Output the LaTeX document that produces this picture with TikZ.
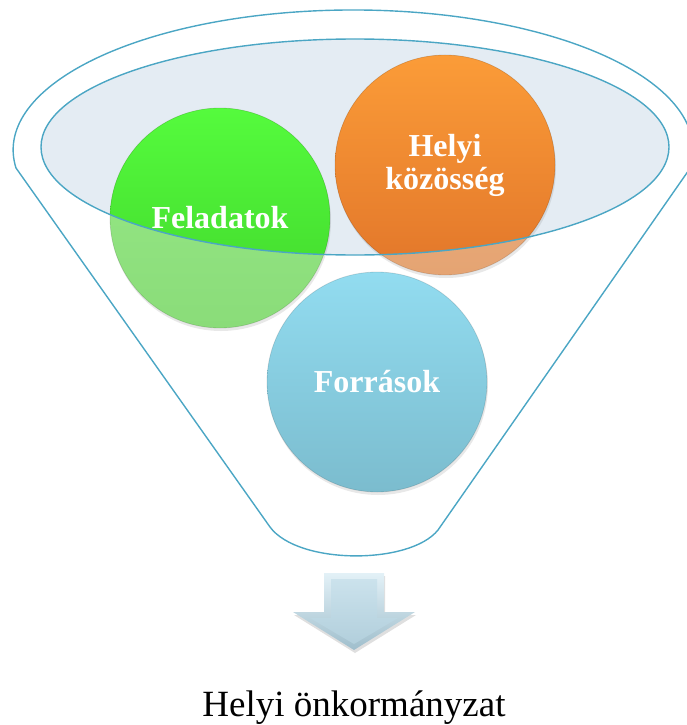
\documentclass[tikz,border=0pt]{standalone}
\usepackage{fontspec}
\setmainfont{Liberation Serif}
\usetikzlibrary{shadows}
\definecolor{funnelc}{HTML}{4BA6C4}
\definecolor{ellfill}{HTML}{E4ECF3}
\definecolor{gTop}{HTML}{55FB3D}
\definecolor{gBot}{HTML}{40D52B}
\definecolor{gLtTop}{HTML}{98EA88}
\definecolor{gLtBot}{HTML}{8ADC79}
\definecolor{oTop}{HTML}{FB9C38}
\definecolor{oBot}{HTML}{E2762A}
\definecolor{oLtTop}{HTML}{EDB37F}
\definecolor{oLtBot}{HTML}{E5A473}
\definecolor{bTop}{HTML}{92DCF0}
\definecolor{bBot}{HTML}{7BBCCE}
\definecolor{arTop}{HTML}{E3F1F7}
\definecolor{arBot}{HTML}{9FBECC}
\definecolor{arInTop}{HTML}{CBE2EC}
\definecolor{arInBot}{HTML}{B2CFDC}
\begin{document}
\begin{tikzpicture}[x=1pt,y=-1pt,
  fline/.style={draw=funnelc, line width=1.4pt},
  ball/.style={circle, minimum size=220pt, inner sep=0pt, text=white,
    font=\fontsize{32}{34}\selectfont\bfseries, align=center,
    draw=black, draw opacity=0.12, line width=0.8pt,
    drop shadow={opacity=0.18, shadow xshift=1pt, shadow yshift=-3pt}},
  vivid/.style 2 args={path picture={
    \clip (ec) ellipse [x radius=314, y radius=108];
    \shade[top color=#1, bottom color=#2]
      (path picture bounding box.north west) rectangle (path picture bounding box.south east);}},
  caption/.style={font=\fontsize{37}{39}\selectfont, text=black, inner sep=0pt}
]
\useasboundingbox (0,0) rectangle (687,725);
% funnel outline
\draw[fline] (16,168) arc[start angle=172.6, end angle=367.4, x radius=340, y radius=140]
  -- (438,530) .. controls (410,565) and (298,565) .. (270,527) -- cycle;
% inner ellipse
\coordinate (ec) at (355,147);
\fill[ellfill] (ec) ellipse [x radius=314, y radius=108];
% balls
\node[ball, top color=gLtTop, bottom color=gLtBot, vivid={gTop}{gBot}] (fel) at (220,218) {Feladatok};
\node[ball, top color=oLtTop, bottom color=oLtBot, vivid={oTop}{oBot}] (hk) at (445,165) {Helyi\\[-1pt]közösség};
\node[ball, top color=bTop, bottom color=bBot] (forr) at (377,382) {Források};
% inner ellipse outline
\draw[fline] (ec) ellipse [x radius=314, y radius=108];
% arrow
\path[top color=arTop, bottom color=arBot, drop shadow={opacity=0.25, shadow xshift=1pt, shadow yshift=-3pt}]
  (324,573) -- (384,573) -- (384,612) -- (415,612) -- (354,650) -- (293,612) -- (324,612) -- cycle;
\path[top color=arInTop, bottom color=arInBot]
  (331,579) -- (377,579) -- (377,618) -- (398,618) -- (354,644) -- (310,618) -- (331,618) -- cycle;
% caption
\node[caption, anchor=base] (onk) at (354,716) {Helyi önkormányzat};
\end{tikzpicture}
\end{document}
